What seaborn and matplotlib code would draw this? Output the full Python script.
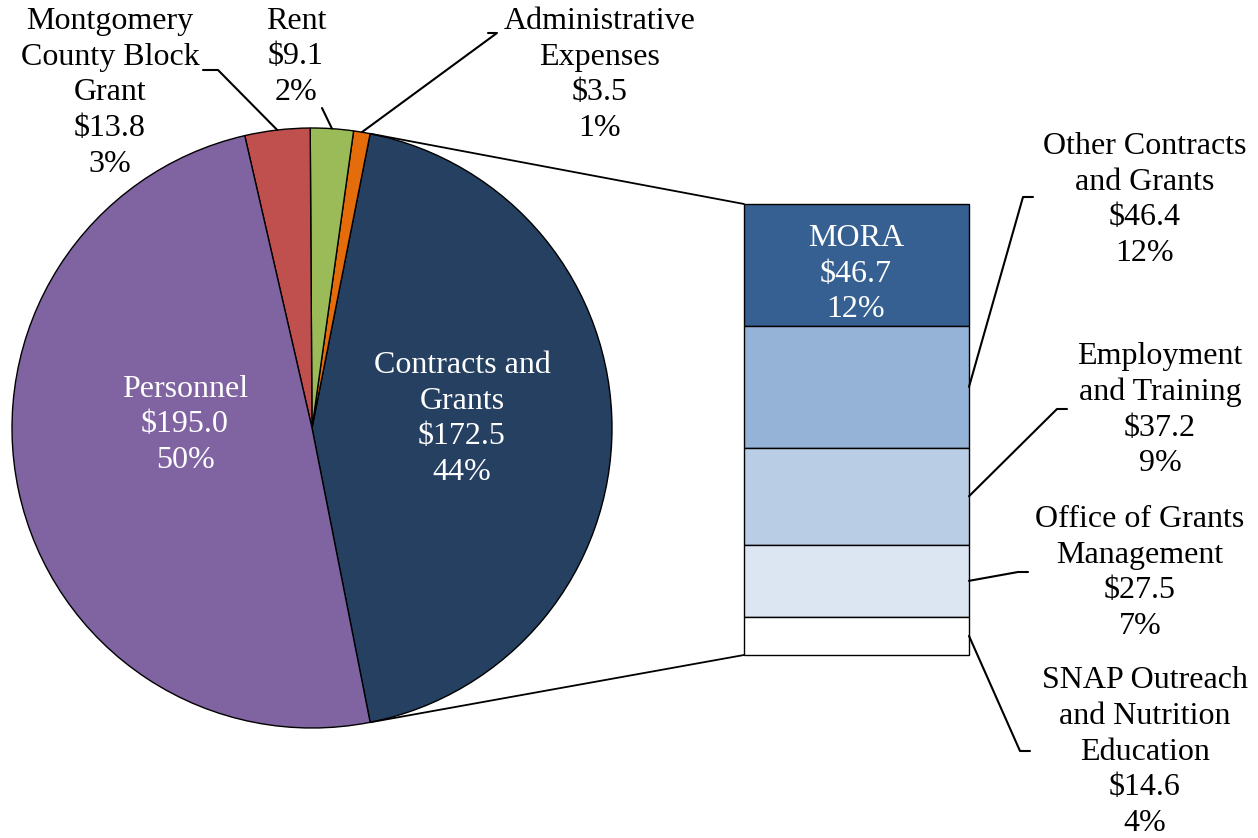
import numpy as np
import matplotlib
matplotlib.use("Agg")
import matplotlib.pyplot as plt
import seaborn as sns

# ── Data ───────────────────────────────────────────────
pie_labels = ["Contracts and\nGrants", "Administrative\nExpenses", "Rent",
              "Montgomery\nCounty Block\nGrant", "Personnel"]
pie_values = [172.5, 3.5, 9.1, 13.8, 195.0]
pie_pcts = ["44%", "1%", "2%", "3%", "50%"]
pie_colors = ["#254061", "#E46C0A", "#9BBB59", "#C0504D", "#8064A2"]

bar_labels = ["MORA", "Other Contracts\nand Grants", "Employment\nand Training",
              "Office of Grants\nManagement", "SNAP Outreach\nand Nutrition\nEducation"]
bar_values = [46.7, 46.4, 37.2, 27.5, 14.6]
bar_pcts = ["12%", "12%", "9%", "7%", "4%"]
bar_colors = ["#366092", "#95B3D7", "#B9CDE5", "#DCE6F2", "#FFFFFF"]

# ── Style ──────────────────────────────────────────────
sns.set_theme(style="white")
plt.rcParams["font.family"] = ["Liberation Serif", "DejaVu Serif"]
FS = 23

W, H = 1258, 838
fig = plt.figure(figsize=(W / 100, H / 100), dpi=100)
ax = fig.add_axes([0, 0, 1, 1])

# ── Pie ────────────────────────────────────────────────
cx, cy, R = 312, 410, 300
total = sum(pie_values)
start = -pie_values[0] / total * 180
wedges, _ = ax.pie(pie_values, colors=pie_colors, startangle=start,
                   counterclock=True, center=(cx, cy), radius=R,
                   wedgeprops={"edgecolor": "black", "linewidth": 1})

def wedge_point(w, frac=0.5):
    a = np.deg2rad(w.theta1 + (w.theta2 - w.theta1) * frac)
    return cx + R * np.cos(a), cy + R * np.sin(a)

# ── Bar of pie ─────────────────────────────────────────
bx0, bx1 = 744, 969
bar_top, bar_h = H - 204, 451
scale = bar_h / sum(bar_values)
tops = bar_top - np.concatenate([[0], np.cumsum(bar_values)[:-1]]) * scale
heights = np.array(bar_values) * scale
ax.bar([(bx0 + bx1) / 2] * len(bar_values), heights, width=bx1 - bx0,
       bottom=tops - heights, color=bar_colors, edgecolor="black", linewidth=1)

# connector lines pie -> bar
p_top = wedge_point(wedges[0], 1.0)
p_bot = wedge_point(wedges[0], 0.0)
ax.plot([p_top[0], bx0], [p_top[1], bar_top], color="black", lw=1.3)
ax.plot([p_bot[0], bx0], [p_bot[1], bar_top - bar_h], color="black", lw=1.3)

# ── Labels ─────────────────────────────────────────────
def lab(x, y, txt, color="black"):
    ax.text(x, H - y, txt, ha="center", va="center", fontsize=FS,
            color=color, linespacing=1.3)

# inside labels
lab(185, 425, f"{pie_labels[4]}\n${pie_values[4]:.1f}\n{pie_pcts[4]}", "white")
lab(462, 419, f"{pie_labels[0]}\n${pie_values[0]:.1f}\n{pie_pcts[0]}", "white")
lab(856, 274, f"{bar_labels[0]}\n${bar_values[0]:.1f}\n{bar_pcts[0]}", "white")

# outside pie labels with leaders
pie_out = [  # index, label center, elbow, end
    (3, (110, 93), (218, 70), (203, 70)),
    (2, (296, 57), None, (322, 108)),
    (1, (600, 75), (497, 33), (488, 33)),
]
for i, (lx, ly), elbow, end in pie_out:
    lab(lx, ly, f"{pie_labels[i]}\n${pie_values[i]:.1f}\n{pie_pcts[i]}")
    px, py = wedge_point(wedges[i])
    xs, ys = [px], [py]
    if elbow is not None:
        xs.append(elbow[0]); ys.append(H - elbow[1])
    xs.append(end[0]); ys.append(H - end[1])
    ax.plot(xs, ys, color="black", lw=1.5)

# outside bar labels with leaders
bar_out = [
    (1, (1145, 200), (1023, 197), (1033, 197)),
    (2, (1160, 410), (1057, 409), (1067, 409)),
    (3, (1140, 573), (1018, 572), (1028, 572)),
    (4, (1145, 752), (1020, 751), (1030, 751)),
]
for i, (lx, ly), elbow, end in bar_out:
    lab(lx, ly, f"{bar_labels[i]}\n${bar_values[i]:.1f}\n{bar_pcts[i]}")
    sy = tops[i] - heights[i] / 2
    ax.plot([bx1, elbow[0], end[0]], [sy, H - elbow[1], H - end[1]],
            color="black", lw=1.5)

ax.set_xlim(0, W)
ax.set_ylim(0, H)
ax.set_aspect("auto")
ax.axis("off")

fig.savefig("out.png", dpi=100, facecolor="white")
